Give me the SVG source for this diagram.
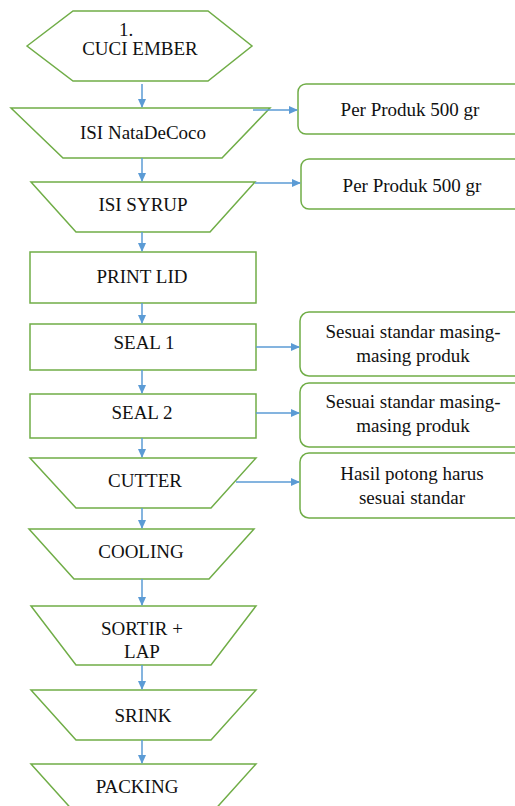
<svg xmlns="http://www.w3.org/2000/svg" width="515" height="806" viewBox="0 0 515 806">
<style>
.n{fill:#fff;stroke:#70AD47;stroke-width:1.5}
text{font-family:'Liberation Serif','DejaVu Serif','Times New Roman',serif;font-size:19px;fill:#111;text-anchor:middle}
.c{stroke:#5B9BD5;stroke-width:1.5;fill:none;marker-end:url(#ah)}
</style>
<defs>
<marker id="ah" markerWidth="10" markerHeight="10" refX="8" refY="4" orient="auto" markerUnits="userSpaceOnUse">
<path d="M0,0 L9,4 L0,8 Z" fill="#5B9BD5"/>
</marker>
</defs>
<g font-family="Liberation Serif, serif">
<g id="cuci-ember">
<polygon class="n" points="27,46 73,11 208,11 252,46 208,81 73,81"/>
<text x="126" y="36">1.</text>
<text x="140" y="55">CUCI EMBER</text>
</g>
<g id="isi-nata">
<polygon class="n" points="11,108 270,108 222,158 63,158"/>
<text x="143" y="139">ISI NataDeCoco</text>
</g>
<g id="isi-syrup">
<polygon class="n" points="31,182 255,182 210,232 76,232"/>
<text x="143" y="211">ISI SYRUP</text>
</g>
<g id="print-lid">
<rect class="n" x="30" y="252" width="226" height="51"/>
<text x="142" y="283">PRINT LID</text>
</g>
<g id="seal-1">
<rect class="n" x="30" y="324" width="226" height="46"/>
<text x="144" y="349">SEAL 1</text>
</g>
<g id="seal-2">
<rect class="n" x="30" y="394" width="226" height="44"/>
<text x="142" y="419">SEAL 2</text>
</g>
<g id="cutter">
<polygon class="n" points="30,458 256,458 211,508 76,508"/>
<text x="145" y="487">CUTTER</text>
</g>
<g id="cooling">
<polygon class="n" points="29,529 254,529 209,579 74,579"/>
<text x="141" y="558">COOLING</text>
</g>
<g id="sortir-lap">
<polygon class="n" points="31,606 256,606 211,665 76,665"/>
<text x="142" y="635">SORTIR +</text>
<text x="142" y="658">LAP</text>
</g>
<g id="srink">
<polygon class="n" points="31,690 256,690 211,740 76,740"/>
<text x="143" y="722">SRINK</text>
</g>
<g id="packing">
<polygon class="n" points="31,764 256,764 211,814 76,814"/>
<text x="137" y="793">PACKING</text>
</g>
<g id="note-1">
<rect class="n" x="298" y="84" width="240" height="50" rx="8"/>
<text x="410" y="116">Per Produk 500 gr</text>
</g>
<g id="note-2">
<rect class="n" x="301" y="159" width="240" height="50" rx="8"/>
<text x="412" y="192">Per Produk 500 gr</text>
</g>
<g id="note-3">
<rect class="n" x="300" y="312" width="240" height="64" rx="9"/>
<text x="413" y="338">Sesuai standar masing-</text>
<text x="413" y="362">masing produk</text>
</g>
<g id="note-4">
<rect class="n" x="300" y="383" width="240" height="64" rx="9"/>
<text x="413" y="408">Sesuai standar masing-</text>
<text x="413" y="432">masing produk</text>
</g>
<g id="note-5">
<rect class="n" x="300" y="453" width="240" height="65" rx="9"/>
<text x="412" y="480">Hasil potong harus</text>
<text x="412" y="504">sesuai standar</text>
</g>
</g>
<g id="connectors">
<line class="c" x1="142" y1="84" x2="142" y2="107"/>
<line class="c" x1="142" y1="158" x2="142" y2="181"/>
<line class="c" x1="142" y1="232" x2="142" y2="251"/>
<line class="c" x1="142" y1="303" x2="142" y2="323"/>
<line class="c" x1="142" y1="370" x2="142" y2="393"/>
<line class="c" x1="142" y1="438" x2="142" y2="457"/>
<line class="c" x1="142" y1="508" x2="142" y2="528"/>
<line class="c" x1="142" y1="579" x2="142" y2="605"/>
<line class="c" x1="142" y1="665" x2="142" y2="689"/>
<line class="c" x1="142" y1="740" x2="142" y2="763"/>
<line class="c" x1="253" y1="110" x2="297" y2="110"/>
<line class="c" x1="255" y1="183" x2="300" y2="183"/>
<line class="c" x1="256" y1="347" x2="299" y2="347"/>
<line class="c" x1="256" y1="413" x2="299" y2="413"/>
<line class="c" x1="236" y1="482" x2="299" y2="482"/>
</g>
</svg>
